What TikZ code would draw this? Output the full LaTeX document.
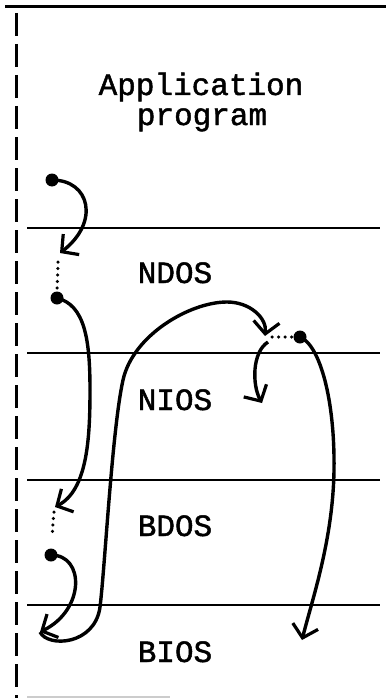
\documentclass[tikz,border=0pt]{standalone}
\usepackage{fontspec}
\newfontfamily\courfont[FakeBold=1.5]{Liberation Mono}
\usetikzlibrary{arrows.meta}
\tikzset{
  lbl/.style={anchor=base, inner sep=0pt, font=\courfont\fontsize{31}{36}\selectfont},
  blob/.style={circle, fill=black, inner sep=0pt, minimum size=13pt},
  layerline/.style={line width=2.8pt},
  flow/.style={line width=3.4pt, -{Straight Barb[length=12pt,width=26pt,line width=3.2pt]}},
  plainflow/.style={line width=3.4pt},
  dotrun/.style={line width=3.5pt, line cap=round, dash pattern=on 0pt off 6.5pt},
}
\begin{document}
\begin{tikzpicture}[x=1pt,y=-1pt]
\useasboundingbox (0,0) rectangle (386,698);
% frame
\draw[line width=3pt] (5,7) -- (386,7);
\draw[line width=3pt, dash pattern=on 23pt off 8pt] (16,13) -- (16,698);
\draw[gray!40, line width=1.5pt] (27,697) -- (170,697);
% layer separators
\draw[layerline] (27,228) -- (380,228);
\draw[layerline] (27,353) -- (380,353);
\draw[layerline] (27,480) -- (380,480);
\draw[layerline] (27,605) -- (380,605);
% labels
\node[lbl] (app) at (201,95) {Application};
\node[lbl] (prog) at (202,125) {program};
\node[lbl] (ndos) at (175,283) {NDOS};
\node[lbl] (nios) at (175,410) {NIOS};
\node[lbl] (bdos) at (175,536) {BDOS};
\node[lbl] (bios) at (175,662) {BIOS};
% blobs and points
\node[blob] (d1) at (52,180) {};
\node[blob] (d2) at (57,298) {};
\node[blob] (d3) at (51,555) {};
\node[blob] (d4) at (300,337) {};
\coordinate (t1) at (60,253);
\coordinate (t2) at (55,507);
\coordinate (t3) at (40,632);
\coordinate (t4) at (265,336);
\coordinate (s6) at (268,342);
\coordinate (t6) at (262,403);
\coordinate (t5) at (302,640);
\coordinate (b1) at (100,607);
\coordinate (b2) at (123,380);
\coordinate (b3) at (227,302);
\coordinate (r1) at (334,470);
\coordinate (m2) at (90,390);
% dotted runs
\draw[dotrun] (58,262) -- (57,290);
\draw[dotrun] (54,512) -- (52,537);
\draw[dotrun] (272,337) -- (292,337);
% flows
\draw[flow] (d1.center) .. controls (90,180) and (100,222) .. (t1);
\draw[plainflow] (d2.center) .. controls (85,305) and (90,340) .. (m2);
\draw[flow] (m2) .. controls (90,440) and (87,490) .. (t2);
\draw[flow] (d3.center) .. controls (85,555) and (85,610) .. (t3);
\draw[plainflow] (t3) .. controls (48,648) and (95,645) .. (b1)
  .. controls (105,567) and (112,430) .. (b2)
  .. controls (133,335) and (190,302) .. (b3);
\draw[flow] (b3) .. controls (250,302) and (267,318) .. (t4);
\draw[flow] (s6) .. controls (252,352) and (252,385) .. (t6);
\draw[plainflow] (d4.center) .. controls (320,345) and (335,400) .. (r1);
\draw[flow] (r1) .. controls (333,540) and (312,600) .. (t5);
\end{tikzpicture}
\end{document}
